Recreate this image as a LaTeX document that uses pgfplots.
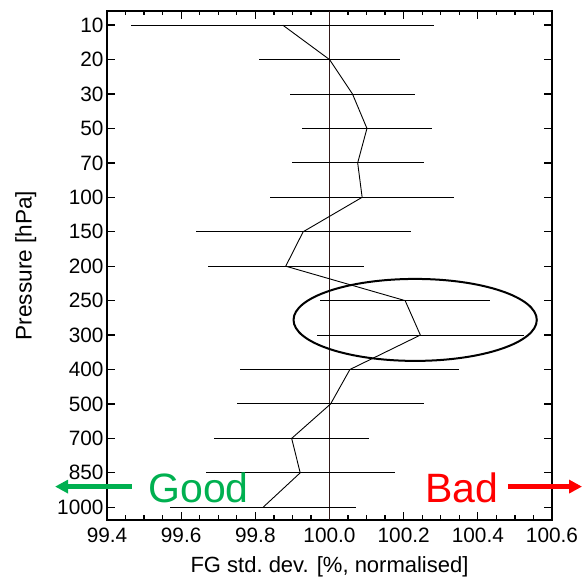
\documentclass[border=0pt]{standalone}
\usepackage{fontspec}
\setmainfont{Liberation Sans}
\usepackage{pgfplots}
\pgfplotsset{compat=1.18}
\usepackage{pgfplotstable}
\usetikzlibrary{arrows.meta}
\definecolor{goodgreen}{RGB}{0,176,80}
\definecolor{badred}{RGB}{255,0,0}
\definecolor{vline}{RGB}{50,25,25}
\pgfplotstableread{
y x e
0 99.874 0.408
1 100.000 0.190
2 100.062 0.169
3 100.101 0.175
4 100.076 0.178
5 100.088 0.249
6 99.929 0.290
7 99.882 0.210
8 100.204 0.230
9 100.245 0.279
10 100.055 0.295
11 100.003 0.253
12 99.898 0.209
13 99.921 0.255
14 99.821 0.250
}\datatable
\begin{document}
\begin{tikzpicture}
\begin{axis}[
  scale only axis,
  width=445pt, height=509pt,
  xmin=99.4, xmax=100.6,
  ymin=-0.41, ymax=14.37,
  y dir=reverse,
  clip=false,
  axis line style={line width=2pt},
  every tick/.style={black, line width=1.3pt},
  major tick length=8pt,
  minor tick length=4.5pt,
  xtick={99.4,99.6,...,100.61},
  minor x tick num=3,
  ytick={0,...,14},
  yticklabels={10,20,30,50,70,100,150,200,250,300,400,500,700,850,1000},
  tick label style={font=\fontsize{20.8}{24}\selectfont},
  /pgf/number format/assume math mode=true,
  xticklabel style={yshift=-4pt, /pgf/number format/.cd, fixed, fixed zerofill, precision=1},
  xlabel={FG std.\ dev. [\%, normalised]},
  ylabel={Pressure [hPa]},
  xlabel style={font=\fontsize{22}{24}\selectfont, yshift=-7pt},
  ylabel style={font=\fontsize{22.6}{24}\selectfont, yshift=14pt},
]
\coordinate (SW) at (rel axis cs:0,0);
\coordinate (NE) at (rel axis cs:1,1);
\draw[vline, line width=1.2pt] (axis cs:100,-0.41) -- (axis cs:100,14.37);
\addplot[black, line width=0.9pt, no marks,
  error bars/.cd, x dir=both, x explicit, error mark=none,
  error bar style={black, line width=0.9pt}]
  table[x=x, y=y, x error=e] {\datatable};
\draw[black, line width=2pt] (axis cs:100.231,8.56) ellipse [x radius=0.328, y radius=1.19];
\draw[goodgreen, line width=4.5pt, -{Triangle[length=13pt,width=13pt]}] (axis cs:99.467,13.40) -- (axis cs:99.26,13.40);
\node[goodgreen, anchor=base west, inner sep=0pt, font=\fontsize{41}{45}\selectfont] at (axis cs:99.511,13.86) {Good};
\draw[badred, line width=4.5pt, -{Triangle[length=13pt,width=13pt]}] (axis cs:100.481,13.40) -- (axis cs:100.681,13.40);
\node[badred, anchor=base west, inner sep=0pt, font=\fontsize{41}{45}\selectfont] at (axis cs:100.258,13.86) {Bad};
\end{axis}
\pgfresetboundingbox
\path ([shift={(-107pt,-57pt)}]SW) rectangle ([shift={(30pt,11pt)}]NE);
\end{tikzpicture}
\end{document}
